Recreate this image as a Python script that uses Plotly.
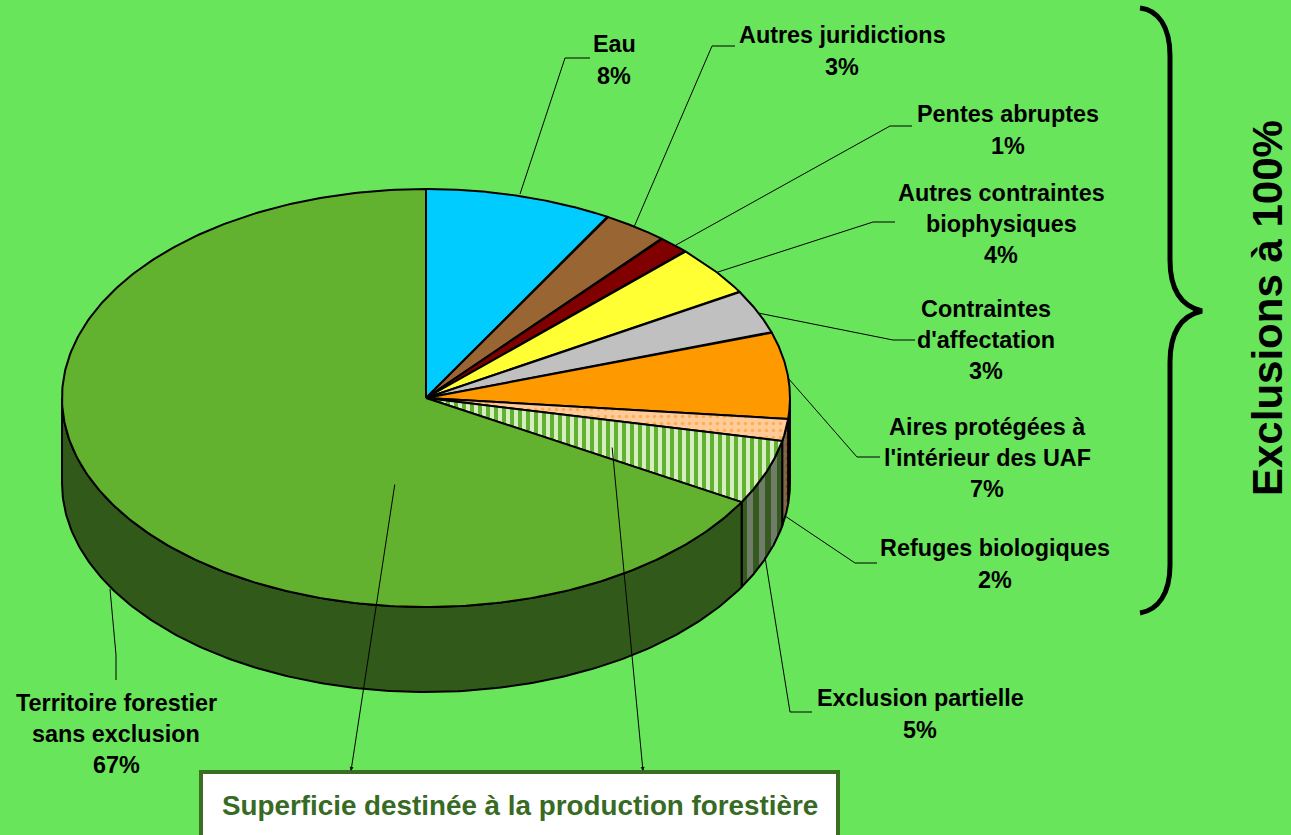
import numpy as np
import plotly.graph_objects as go

# ---- data ----
categories = ["Eau", "Autres juridictions", "Pentes abruptes", "Autres contraintes biophysiques",
              "Contraintes d'affectation", "Aires protégées à l'intérieur des UAF",
              "Refuges biologiques", "Exclusion partielle", "Territoire forestier sans exclusion"]
values = [8.3, 2.9, 1.4, 3.9, 3.4, 6.7, 1.7, 5.0, 66.7]
label_texts = ["Eau<br>8%", "Autres juridictions<br>3%", "Pentes abruptes<br>1%",
               "Autres contraintes<br>biophysiques<br>4%", "Contraintes<br>d'affectation<br>3%",
               "Aires protégées à<br>l'intérieur des UAF<br>7%", "Refuges biologiques<br>2%",
               "Exclusion partielle<br>5%", "Territoire forestier<br>sans exclusion<br>67%"]

# ---- styles ----
BG = "#69E55C"
top_colors = ["#00CCFF", "#996633", "#800000", "#FFFF33", "#C0C0C0", "#FF9900", "#FFCC99", "#63B22F", "#63B22F"]
wall_colors = ["#006680", "#4D331A", "#400000", "#80801A", "#606060", "#804D00", "#7F5A30", "#35591F", "#315A1A"]
patterns = {
    6: dict(top=dict(shape=".", fgcolor="#FFAD55", bgcolor="#FFCC99", fgopacity=1, fillmode="replace", size=7, solidity=0.2),
            wall=dict(shape=".", fgcolor="#804D00", bgcolor="#80664D", fgopacity=1, fillmode="replace", size=7, solidity=0.2)),
    7: dict(top=dict(shape="|", fgcolor="#D6EFC2", bgcolor="#63B22F", fgopacity=1, fillmode="replace", size=8, solidity=0.5),
            wall=dict(shape="|", fgcolor="#6F7D68", bgcolor="#35591F", fgopacity=1, fillmode="replace", size=12, solidity=0.5)),
}
CX, CY, RX, RY, DEPTH = 426, 398, 364, 209, 85

fig = go.Figure()

def pt(t):
    return CX + RX * np.sin(t), CY - RY * np.cos(t)

def add_poly(xs, ys, color, pattern, name):
    kw = dict(fillcolor=color)
    if pattern:
        kw["fillpattern"] = pattern
    fig.add_trace(go.Scatter(x=xs, y=ys, mode="lines", fill="toself", name=name, hoverinfo="name",
                             line=dict(color="black", width=2), showlegend=False, **kw))

edges = np.concatenate([[0], np.cumsum(values)]) / sum(values) * 2 * np.pi

# side walls (only the front half of the ellipse is visible)
for i, name in enumerate(categories):
    a, b = max(edges[i], np.pi / 2), min(edges[i + 1], 3 * np.pi / 2)
    if b <= a:
        continue
    t = np.linspace(a, b, 200)
    x, y = pt(t)
    xs = np.concatenate([x, x[::-1], x[:1]])
    ys = np.concatenate([y, y[::-1] + DEPTH, y[:1]])
    add_poly(xs, ys, wall_colors[i], patterns.get(i, {}).get("wall"), name)

# top face
for i, name in enumerate(categories):
    t = np.linspace(edges[i], edges[i + 1], 300)
    x, y = pt(t)
    xs = np.concatenate([[CX], x, [CX]])
    ys = np.concatenate([[CY], y, [CY]])
    add_poly(xs, ys, top_colors[i], patterns.get(i, {}).get("top"), name)

# ---- leaders ----
leaders = [
    [(520, 194), (565, 58), (590, 58)],
    [(634, 227), (712, 46), (735, 46)],
    [(676, 245), (890, 126), (912, 126)],
    [(718, 272), (873, 222), (895, 222)],
    [(758, 313), (893, 340), (915, 340)],
    [(788, 378), (857, 457), (880, 457)],
    [(785, 516), (855, 563), (877, 563)],
    [(765, 557), (790, 712), (812, 712)],
    [(110, 589), (116, 655), (116, 680)],
]
shapes = []
for pts in leaders:
    path = "M " + " L ".join(f"{px} {py}" for px, py in pts)
    shapes.append(dict(type="path", path=path, xref="x", yref="y", line=dict(color="black", width=1)))

# brace
shapes.append(dict(type="path", xref="x", yref="y", line=dict(color="black", width=5),
    path="M 1140 8 C 1158 10 1170 26 1170 56 L 1170 260 C 1170 288 1180 306 1202 311 "
         "C 1180 316 1170 334 1170 362 L 1170 565 C 1170 594 1158 610 1140 613"))
# white box
shapes.append(dict(type="rect", xref="x", yref="y", x0=201, x1=838, y0=772, y1=845,
                   fillcolor="white", line=dict(color="#3B6E22", width=4)))

# ---- annotations ----
label_pos = [(614, 60), (842, 51), (1008, 130), (1001, 224), (986, 340), (987, 458), (995, 564), (920, 714), (116, 734)]
LINE = 31.2
ann = []
for (x, y), txt in zip(label_pos, label_texts):
    parts = txt.split("<br>")
    for k, part in enumerate(parts):
        ann.append(dict(x=x, y=y + (k - (len(parts) - 1) / 2) * LINE, xref="x", yref="y", text=f"<b>{part}</b>",
                        showarrow=False, align="center",
                        font=dict(family="Liberation Sans", size=23.4, color="black")))
ann.append(dict(x=1267, y=308, xref="x", yref="y", text="<b>Exclusions à 100%</b>", textangle=-90, showarrow=False,
                font=dict(family="Liberation Sans", size=42, color="black")))
ann.append(dict(x=520, y=805, xref="x", yref="y", text="<b>Superficie destinée à la production forestière</b>",
                showarrow=False, font=dict(family="Liberation Sans", size=27.8, color="#376B24")))
for (x0, y0, x1, y1) in [(395, 483, 351, 771), (612, 446, 643, 771)]:
    ann.append(dict(x=x1, y=y1, ax=x0, ay=y0, xref="x", yref="y", axref="x", ayref="y", text="", showarrow=True,
                    arrowhead=2, arrowsize=0.8, arrowwidth=1, arrowcolor="black"))

fig.update_layout(width=1291, height=835, margin=dict(l=0, r=0, t=0, b=0), paper_bgcolor=BG, plot_bgcolor=BG,
                  autosize=False, shapes=shapes, annotations=ann, showlegend=False,
                  xaxis=dict(range=[0, 1291], visible=False, fixedrange=True),
                  yaxis=dict(range=[835, 0], visible=False, fixedrange=True))
fig.write_html("out.html", post_script="document.body.style.margin='0';document.body.style.overflow='hidden';",
               config=dict(displayModeBar=False))
